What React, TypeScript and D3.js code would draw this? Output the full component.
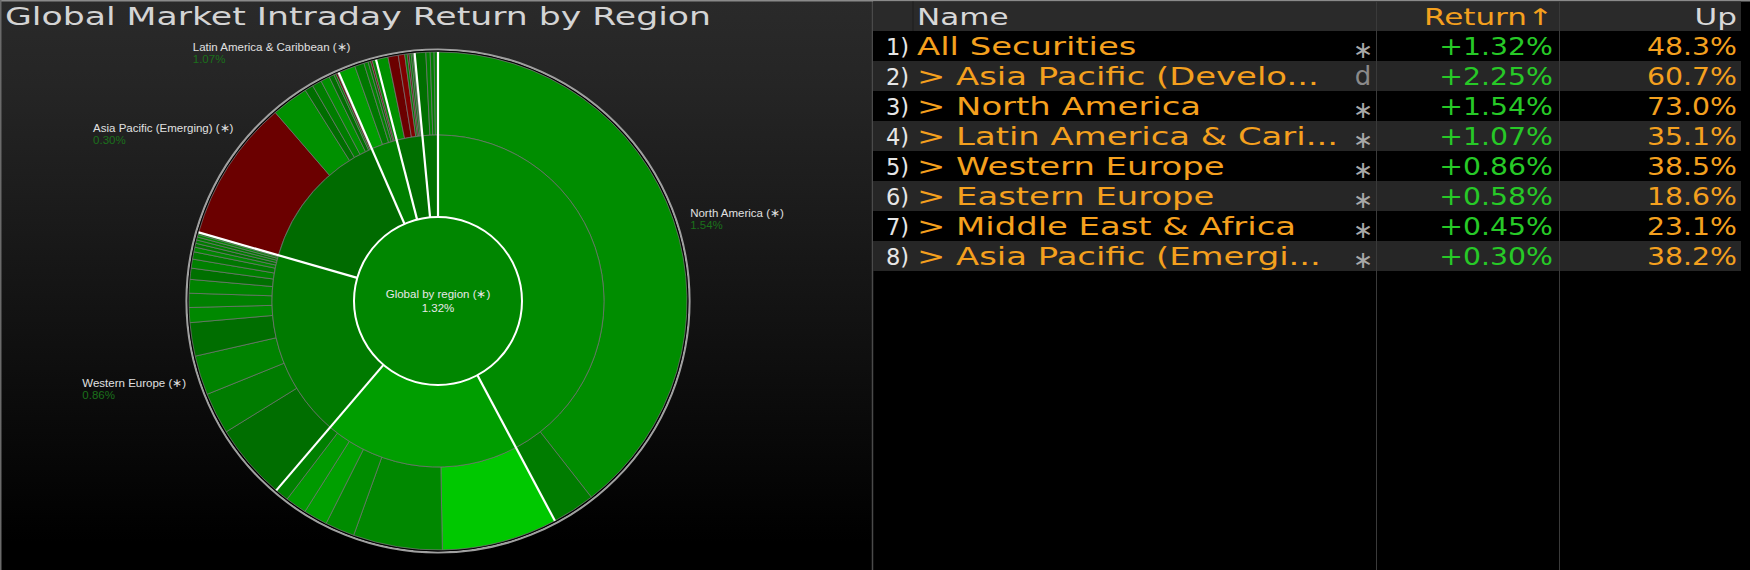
import React, { useEffect, useLayoutEffect, useRef } from "react";
import * as d3 from "d3";

const W = 1750;
const H = 570;

// ---------- Sunburst data ----------
const globalName = "Global by region";
const globalReturn = 1.32;
const regionNames = [
  "North America",
  "Asia Pacific (Developed)",
  "Western Europe",
  "Asia Pacific (Emerging)",
  "Latin America & Caribbean",
  "Middle East & Africa",
  "Eastern Europe",
];
const regionReturns = [1.54, 2.25, 0.86, 0.3, 1.07, 0.45, 0.58];
const leafWeights = [
  [142, 10],
  [27, 20.8, 6.9, 5.6, 5.0, 3.2],
  [17.8, 9.7, 9.2, 7.8, 3.5, 3.3, 3.2, 2.6, 2.1, 1.7, 1.1, 0.9, 0.8, 0.7, 0.6, 0.5],
  [33.2, 8.6, 2.0, 2.2, 2.1, 1.2, 0.5, 0.4, 0.3],
  [4.0, 2.2, 1.0, 0.6, 0.4, 0.9],
  [2.8, 2.4, 1.5, 0.6, 0.4, 0.5, 0.4, 0.4],
  [2.6, 1.0, 0.9, 0.9],
];
const leafReturns = [
  [1.6, 0.95],
  [3.85, 1.4, 1.55, 2.3, 2.05, 1.1],
  [0.4, 0.95, 1.2, 0.4, 1.4, 1.1, 1.2, 0.5, 1.1, 0.75, 1.3, 0.6, 1.0, 0.8, 1.5, 0.7],
  [-0.35, 1.7, 0.4, 1.0, 1.7, 0.5, 1.2, -0.4, 0.8],
  [2.3, 0.8, 1.2, 0.5, -0.5, 1.4],
  [1.7, -0.35, -1.0, 1.0, -0.3, 0.8, 0.5, 1.2],
  [0.45, 1.1, 0.9, 1.3],
];
const labeledRegions = [
  "North America",
  "Western Europe",
  "Asia Pacific (Emerging)",
  "Latin America & Caribbean",
];

// ---------- Table data ----------
const tableHeaders = ["Name", "Return\u2191", "Up"];
const tableNames = [
  "All Securities",
  "> Asia Pacific (Develo...",
  "> North America",
  "> Latin America & Cari...",
  "> Western Europe",
  "> Eastern Europe",
  "> Middle East & Africa",
  "> Asia Pacific (Emergi...",
];
const tableFlags = ["\u2217", "d", "\u2217", "\u2217", "\u2217", "\u2217", "\u2217", "\u2217"];
const tableReturns = [1.32, 2.25, 1.54, 1.07, 0.86, 0.58, 0.45, 0.3];
const tableUp = [48.3, 60.7, 73.0, 35.1, 38.5, 18.6, 23.1, 38.2];

const chartTitle = "Global Market Intraday Return by Region";

const greenScale = d3.scaleLinear<string>().domain([0, 4]).range(["#006300", "#00cc00"]).clamp(true);
const redScale = d3.scaleLinear<string>().domain([0, -3]).range(["#600000", "#c00000"]).clamp(true);
const retColor = (r: number) => (r >= 0 ? greenScale(r) : redScale(r));

const ORANGE = "#f4a01e";
const GREEN_TXT = "#27c927";
const FONT = "'DejaVu Sans', sans-serif";
const LFONT = "'Liberation Sans', Arial, sans-serif";

export default function App() {
  const svgRef = useRef<SVGSVGElement>(null);

  useEffect(() => {
    document.body.style.margin = "0";
    document.body.style.background = "#000";
  }, []);

  // left-side labels: both lines left aligned, block ending at the anchor point
  useLayoutEffect(() => {
    if (!svgRef.current) return;
    d3.select(svgRef.current)
      .selectAll<SVGGElement, unknown>("g.lab-left")
      .each(function () {
        const g = d3.select(this);
        const nm = g.select<SVGTextElement>("text.nm");
        const px = +nm.attr("data-px");
        const w = (nm.node() as SVGTextElement).getComputedTextLength();
        g.selectAll("text").attr("x", px - w).attr("text-anchor", "start");
      });
  }, []);

  // Sunburst layout
  const cx = 438;
  const cy = 301;
  const radii = [0, 84, 166, 249];

  const rootData = {
    name: globalName,
    ret: globalReturn,
    children: regionNames.map((n, i) => ({
      name: n,
      ret: regionReturns[i],
      children: leafWeights[i].map((w, j) => ({ name: n + j, value: w, ret: leafReturns[i][j] })),
    })),
  };
  const root = d3.hierarchy<any>(rootData).sum((d: any) => d.value ?? 0);
  d3.partition<any>().size([2 * Math.PI, 1])(root);
  const nodes = root.descendants() as any[];

  const arc = d3
    .arc<any>()
    .startAngle((d) => d.x0)
    .endAngle((d) => d.x1)
    .innerRadius((d) => radii[d.depth])
    .outerRadius((d) => radii[d.depth + 1]);

  const level1 = nodes.filter((d) => d.depth === 1);
  const leaves = nodes.filter((d) => d.depth === 2);

  // Table layout
  const rowY = d3.scaleBand<number>().domain(d3.range(tableNames.length)).range([31, 31 + 30 * tableNames.length]);
  const xNum = 886;
  const xName = 917;
  const xFlag = 1363;
  const xRet = 1553;
  const xUp = 1737;
  const tableRight = 1741;
  const nameScale = 1.41;
  const numScale = 1.18;
  const headScale = 1.35;

  return (
    <svg ref={svgRef} width={W} height={H} style={{ display: "block", background: "#000" }}>
      <defs>
        <linearGradient id="leftbg" x1="0" y1="0" x2="0" y2="1">
          <stop offset="0" stopColor="#2a2a2a" />
          <stop offset="0.15" stopColor="#252525" />
          <stop offset="0.95" stopColor="#000" />
        </linearGradient>
      </defs>

      {/* Left panel */}
      <rect x={0} y={0} width={872} height={H} fill="url(#leftbg)" />
      <line x1={872.5} y1={0} x2={872.5} y2={H} stroke="#4a4a4a" strokeWidth={1.5} />
      <line x1={0} y1={0.75} x2={W} y2={0.75} stroke="#8a8a8a" strokeWidth={1.5} />
      <line x1={0.75} y1={0} x2={0.75} y2={H} stroke="#6a6a6a" strokeWidth={1.5} />

      <text
        x={5}
        y={25}
        fontFamily={FONT}
        fontSize={25}
        fill="#d4d4d4"
        textLength={706}
        lengthAdjust="spacingAndGlyphs"
      >
        {chartTitle}
      </text>

      {/* Sunburst */}
      <g transform={`translate(${cx},${cy})`}>
        <circle r={251.5} fill="none" stroke="#a0a0a0" strokeWidth={2.2} />
        <circle r={249.8} fill="none" stroke="#000" strokeWidth={1.2} />
        {leaves.map((d, i) => (
          <path key={"l" + i} d={arc(d) as string} fill={retColor(d.data.ret)} stroke="#7a7a7a" strokeWidth={0.7} />
        ))}
        {level1.map((d, i) => (
          <path key={"r" + i} d={arc(d) as string} fill={retColor(d.data.ret)} stroke="#7a7a7a" strokeWidth={0.7} />
        ))}
        {level1.map((d, i) => {
          const p0 = d3.pointRadial(d.x0, radii[1]);
          const p1 = d3.pointRadial(d.x0, radii[3]);
          return (
            <line key={"w" + i} x1={p0[0]} y1={p0[1]} x2={p1[0]} y2={p1[1]} stroke="#fff" strokeWidth={2.2} />
          );
        })}
        <circle r={radii[1]} fill={retColor(root.data.ret)} stroke="#fff" strokeWidth={2} />
        <text y={-3} textAnchor="middle" fontFamily={LFONT} fontSize={11.5} fill="#e8e8e8">
          {root.data.name + " (\u2217)"}
        </text>
        <text y={11} textAnchor="middle" fontFamily={LFONT} fontSize={11.5} fill="#e8e8e8">
          {root.data.ret.toFixed(2) + "%"}
        </text>
        {level1
          .filter((d) => labeledRegions.includes(d.data.name))
          .map((d, i) => {
            const a = d.x0 + (d.x1 - d.x0) * 0.47;
            const [px, py] = d3.pointRadial(a, 266);
            const right = Math.sin(a) > 0;
            return (
              <g key={"lab" + i} className={right ? "lab-right" : "lab-left"}>
                <text
                  className="nm"
                  data-px={px}
                  x={px}
                  y={py + 1}
                  textAnchor={right ? "start" : "end"}
                  fontFamily={LFONT}
                  fontSize={11.5}
                  fill="#e0e0e0"
                >
                  {d.data.name + " (\u2217)"}
                </text>
                <text
                  className="pc"
                  x={px}
                  y={py + 13}
                  textAnchor={right ? "start" : "end"}
                  fontFamily={LFONT}
                  fontSize={11.5}
                  fill="#1b701b"
                >
                  {d.data.ret.toFixed(2) + "%"}
                </text>
              </g>
            );
          })}
      </g>

      {/* Right panel: table */}
      <rect x={873} y={1.5} width={tableRight - 873} height={29.5} fill="#2a2a2a" />
      {tableNames.map((_, i) => (
        <rect
          key={"rb" + i}
          x={873}
          y={rowY(i)}
          width={tableRight - 873}
          height={rowY.bandwidth()}
          fill={i % 2 === 1 ? "#262626" : "#000"}
        />
      ))}
      <line x1={913} y1={1.5} x2={913} y2={31} stroke="#1c1c1c" strokeWidth={1} />
      <line x1={1376.5} y1={1.5} x2={1376.5} y2={H} stroke="#3a3a3a" strokeWidth={1} />
      <line x1={1559.5} y1={1.5} x2={1559.5} y2={H} stroke="#3a3a3a" strokeWidth={1} />

      <text transform={`translate(${xName},25) scale(${headScale},1)`} fontFamily={FONT} fontSize={23} fill="#d8d8d8">
        {tableHeaders[0]}
      </text>
      <text
        transform={`translate(${xRet},25) scale(${headScale},1)`}
        textAnchor="end"
        fontFamily={FONT}
        fontSize={23}
        fill={ORANGE}
      >
        {tableHeaders[1]}
      </text>
      <text
        transform={`translate(${xUp},25) scale(${headScale},1)`}
        textAnchor="end"
        fontFamily={FONT}
        fontSize={23}
        fill="#d8d8d8"
      >
        {tableHeaders[2]}
      </text>

      {tableNames.map((name, i) => {
        const y = (rowY(i) as number) + 24;
        return (
          <g key={"row" + i}>
            <text transform={`translate(${xNum},${y}) scale(0.98,1)`} fontFamily={FONT} fontSize={23} fill="#e6e6e6">
              {i + 1 + ")"}
            </text>
            <text transform={`translate(${xName},${y}) scale(${nameScale},1)`} fontFamily={FONT} fontSize={24} fill={ORANGE}>
              {name}
            </text>
            <text
              x={xFlag}
              y={tableFlags[i] === "d" ? y : y + 3}
              textAnchor="middle"
              fontFamily={FONT}
              fontSize={tableFlags[i] === "d" ? 26 : 24}
              fill={tableFlags[i] === "d" ? "#8a8a8a" : "#a8a8a8"}
            >
              {tableFlags[i]}
            </text>
            <text
              transform={`translate(${xRet},${y}) scale(${numScale},1)`}
              textAnchor="end"
              fontFamily={FONT}
              fontSize={24}
              fill={GREEN_TXT}
            >
              {"+" + tableReturns[i].toFixed(2) + "%"}
            </text>
            <text
              transform={`translate(${xUp},${y}) scale(${numScale},1)`}
              textAnchor="end"
              fontFamily={FONT}
              fontSize={24}
              fill={ORANGE}
            >
              {tableUp[i].toFixed(1) + "%"}
            </text>
          </g>
        );
      })}
    </svg>
  );
}
